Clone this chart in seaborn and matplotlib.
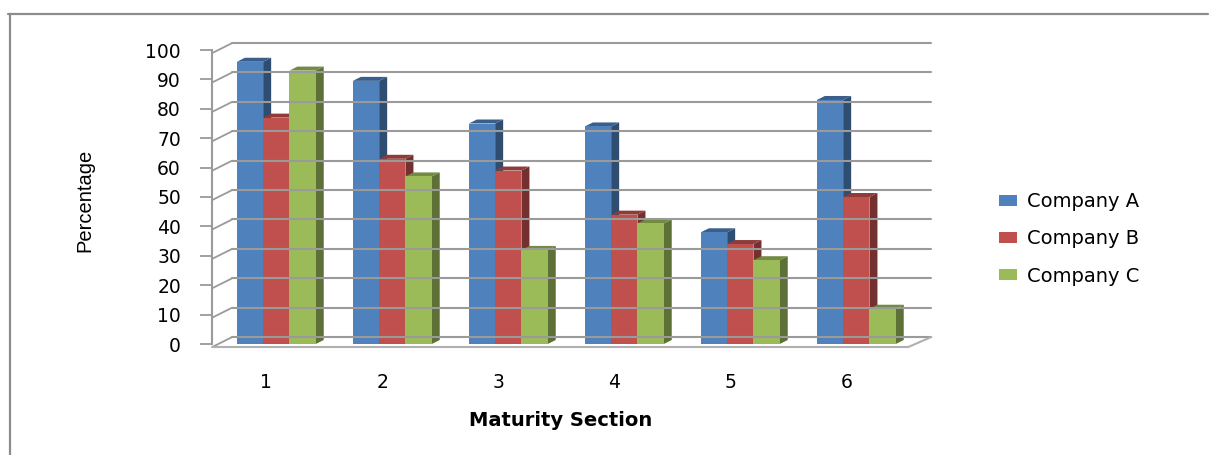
import matplotlib
matplotlib.use('Agg')
import matplotlib.pyplot as plt
from matplotlib.lines import Line2D
from matplotlib.patches import Polygon
import matplotlib.transforms as mtrans
import seaborn as sns
import pandas as pd
import numpy as np

# ---- data ----
sections = ['1', '2', '3', '4', '5', '6']
series_names = ['Company A', 'Company B', 'Company C']
company_a = [96, 89.5, 75, 74, 38, 83]
company_b = [77, 63, 59, 44, 34, 50]
company_c = [93, 57, 32, 41, 28.5, 12]
y_ticks = [0, 10, 20, 30, 40, 50, 60, 70, 80, 90, 100]
x_label = 'Maturity Section'
y_label = 'Percentage'

df = pd.DataFrame({
    'section': sections * 3,
    'value': company_a + company_b + company_c,
    'company': [n for n in series_names for _ in sections],
})

sns.set_theme(style='white')
plt.rcParams['font.family'] = ['DejaVu Sans']
plt.rcParams['text.color'] = '#000000'

W, H = 1210, 455
fig = plt.figure(figsize=(W / 100, H / 100), dpi=100)
fig.patch.set_facecolor('white')
ax = fig.add_axes([218.3 / W, 111 / H, 696 / W, 294 / H])
ax.set_facecolor('none')

palette = ['#4F81BD', '#C0504D', '#9BBB59']
sns.barplot(data=df, x='section', y='value', hue='company', order=sections,
            hue_order=series_names, palette=palette, saturation=1, width=0.68,
            gap=0, errorbar=None, edgecolor='none', linewidth=0, ax=ax)
ax.set_xlim(-0.5, len(sections) - 0.5)
ax.set_ylim(0, 100)

# ---- pseudo 3D faces derived from each bar ----
px_x = (len(sections)) / 696.0   # data units per pixel (x)
px_y = 100 / 294.0               # data units per pixel (y)
ddx, ddy = 8 * px_x, 4 * px_y

def shade(c, f):
    r, g, b = matplotlib.colors.to_rgb(c)
    return (r * f, g * f, b * f)

for k, cont in enumerate(ax.containers):
    col = palette[k]
    for bar in cont:
        x0 = bar.get_x()
        x1 = x0 + bar.get_width()
        h = bar.get_height()
        bar.set_zorder(3 + 2 * k + 1)
        side = Polygon([(x1, 0), (x1 + ddx, ddy), (x1 + ddx, h + ddy), (x1, h)],
                       closed=True, facecolor=shade(col, 0.6), edgecolor='none',
                       zorder=3 + 2 * k)
        top = Polygon([(x0, h), (x0 + ddx, h + ddy), (x1 + ddx, h + ddy), (x1, h)],
                      closed=True, facecolor=shade(col, 0.74), edgecolor='none',
                      zorder=3 + 2 * k, clip_on=False)
        side.set_clip_on(False)
        ax.add_patch(side)
        ax.add_patch(top)

# ---- walls, floor, grid (in pixel offsets from the bar plane) ----
grid_col = '#9A9A9A'
xl0, xl1 = ax.get_xlim()
def pix(x, y):
    return ax.transData.transform((x, y))

ident = mtrans.IdentityTransform()
for v in y_ticks:
    a = pix(xl0, v)
    b = pix(xl1, v)
    fig.add_artist(Line2D([a[0] + 14, b[0] + 17], [a[1] + 7, b[1] + 7],
                          transform=ident, color=grid_col, lw=1.5, zorder=0.5))
    fig.add_artist(Line2D([a[0] - 6, a[0] + 14], [a[1] - 3, a[1] + 7],
                          transform=ident, color=grid_col, lw=1.3, zorder=0.5))

f0 = pix(xl0, 0)
f1 = pix(xl1, 0)
floor = [(f0[0] - 6, f0[1] - 3), (f1[0] - 6, f1[1] - 3),
         (f1[0] + 17, f1[1] + 7)]
fig.add_artist(Line2D([p[0] for p in floor], [p[1] for p in floor],
                      transform=ident, color='#B0B0B0', lw=1.5, zorder=0.5))

# ---- axes styling ----
for s in ['top', 'right', 'bottom']:
    ax.spines[s].set_visible(False)
ax.spines['left'].set_position(('outward', 4.3))
ax.spines['left'].set_color(grid_col)
ax.spines['left'].set_linewidth(1.5)
ax.set_yticks(y_ticks)
ax.set_yticklabels([str(t) for t in y_ticks])
ax.tick_params(axis='y', length=8.6, width=1.3, color=grid_col, pad=14,
               labelsize=13.5, labelcolor='#000000', left=True)
ax.tick_params(axis='x', length=0, pad=21, labelsize=13.5, labelcolor='#000000')
for lab in ax.get_xticklabels():
    lab.set_transform(lab.get_transform() +
                      mtrans.ScaledTranslation(-10 / 100, 0, fig.dpi_scale_trans))

ax.set_xlabel(x_label, fontsize=14, fontweight='bold', color='#000000')
ax.xaxis.set_label_coords((561 - 218.3) / 696, (344 - 421) / 294)
ax.xaxis.label.set_va('center')
ax.set_ylabel(y_label, fontsize=14.5, color='#000000',
              family=['Liberation Sans', 'DejaVu Sans'])
ax.yaxis.set_label_coords((85 - 218.3) / 696, (344 - 200) / 294)
ax.yaxis.label.set_va('center')

# ---- legend ----
handles, labels = ax.get_legend_handles_labels()
if ax.get_legend() is not None:
    ax.get_legend().remove()
fs_px = 14 / 72 * 100
leg = fig.legend(handles, labels, loc='center left',
                 bbox_to_anchor=(999 / W, (H - 239) / H), frameon=False,
                 borderpad=0, borderaxespad=0, fontsize=14,
                 handlelength=18 / fs_px, handleheight=9 / fs_px,
                 handletextpad=10 / fs_px, labelspacing=0.93)
for t in leg.get_texts():
    t.set_color('#000000')

# ---- outer frame ----
fig.add_artist(Line2D([8 / W, 1208 / W], [(H - 14) / H, (H - 14) / H],
                      transform=fig.transFigure, color='#8C8C8C', lw=1.6))
fig.add_artist(Line2D([10 / W, 10 / W], [(H - 14) / H, 0],
                      transform=fig.transFigure, color='#8C8C8C', lw=1.6))

fig.savefig('out.png', dpi=100)
